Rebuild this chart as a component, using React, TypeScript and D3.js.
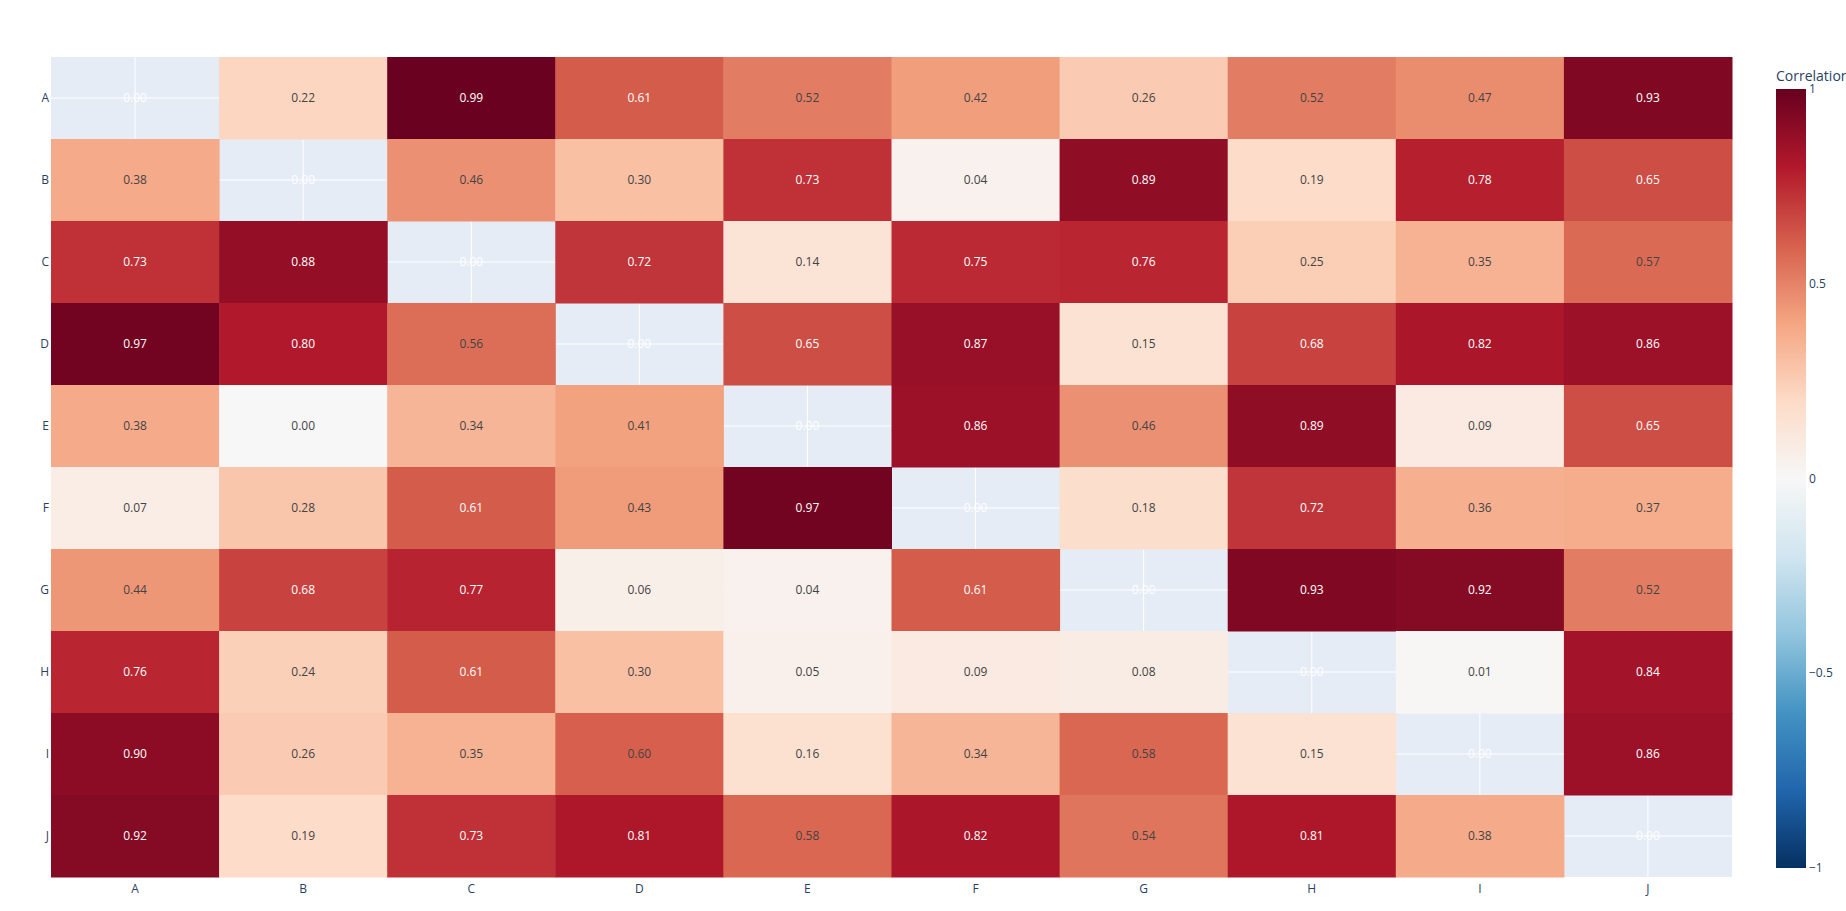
import React from "react";
import * as d3 from "d3";

const labels = ["A", "B", "C", "D", "E", "F", "G", "H", "I", "J"];
const N = NaN;
const rowA = [N, 0.22, 0.99, 0.61, 0.52, 0.42, 0.26, 0.52, 0.47, 0.93];
const rowB = [0.38, N, 0.46, 0.30, 0.73, 0.04, 0.89, 0.19, 0.78, 0.65];
const rowC = [0.73, 0.88, N, 0.72, 0.14, 0.75, 0.76, 0.25, 0.35, 0.57];
const rowD = [0.97, 0.80, 0.56, N, 0.65, 0.87, 0.15, 0.68, 0.82, 0.86];
const rowE = [0.38, 0.00, 0.34, 0.41, N, 0.86, 0.46, 0.89, 0.09, 0.65];
const rowF = [0.07, 0.28, 0.61, 0.43, 0.97, N, 0.18, 0.72, 0.36, 0.37];
const rowG = [0.44, 0.68, 0.77, 0.06, 0.04, 0.61, N, 0.93, 0.92, 0.52];
const rowH = [0.76, 0.24, 0.61, 0.30, 0.05, 0.09, 0.08, N, 0.01, 0.84];
const rowI = [0.90, 0.26, 0.35, 0.60, 0.16, 0.34, 0.58, 0.15, N, 0.86];
const rowJ = [0.92, 0.19, 0.73, 0.81, 0.58, 0.82, 0.54, 0.81, 0.38, N];
const matrix = [rowA, rowB, rowC, rowD, rowE, rowF, rowG, rowH, rowI, rowJ];
const colorbarTicks = [1, 0.5, 0, -0.5, -1];

const rdbuColors = [
  "rgb(5,48,97)", "rgb(33,102,172)", "rgb(67,147,195)", "rgb(146,197,222)",
  "rgb(209,229,240)", "rgb(247,247,247)", "rgb(253,219,199)", "rgb(244,165,130)",
  "rgb(214,96,77)", "rgb(178,24,43)", "rgb(103,0,31)",
];

const W = 1846, H = 911;
const plot = { left: 51, right: 1732, top: 57, bottom: 877 };
const cb = { x: 1776, w: 30, top: 89, bottom: 868 };
const FONT = "'Open Sans', Verdana, Arial, sans-serif";

const stops = rdbuColors.map((_, i) => -1 + (2 * i) / (rdbuColors.length - 1));
const color = d3.scaleLinear<string>().domain(stops).range(rdbuColors).interpolate(d3.interpolateRgb).clamp(true);

function textColor(v: number) {
  if (isNaN(v)) return "#fff";
  const c = d3.rgb(color(v));
  const b = (c.r * 299 + c.g * 587 + c.b * 114) / 1000;
  return b < 128 ? "#fff" : "#444";
}

export default function App() {
  const x = d3.scaleBand().domain(labels).range([plot.left, plot.right]).padding(0);
  const y = d3.scaleBand().domain(labels).range([plot.top, plot.bottom]).padding(0);
  const cbY = d3.scaleLinear().domain([-1, 1]).range([cb.bottom, cb.top]);
  const bw = x.bandwidth(), bh = y.bandwidth();

  return (
    <div style={{ position: "absolute", left: 0, top: 0 }}>
      <svg width={W} height={H} style={{ display: "block", fontFamily: FONT }}>
        <defs>
          <linearGradient id="cbgrad" x1="0" y1="1" x2="0" y2="0">
            {rdbuColors.map((c, i) => (
              <stop key={i} offset={`${(i / (rdbuColors.length - 1)) * 100}%`} stopColor={c} />
            ))}
          </linearGradient>
        </defs>
        <rect x={0} y={0} width={W} height={H} fill="#fff" />
        <rect x={plot.left} y={plot.top} width={plot.right - plot.left} height={plot.bottom - plot.top} fill="#E5ECF6" />
        {labels.map((l) => (
          <g key={"g" + l}>
            <line x1={x(l)! + bw / 2} x2={x(l)! + bw / 2} y1={plot.top} y2={plot.bottom} stroke="#fff" strokeWidth={1} />
            <line y1={y(l)! + bh / 2} y2={y(l)! + bh / 2} x1={plot.left} x2={plot.right} stroke="#fff" strokeWidth={1} />
          </g>
        ))}
        {matrix.map((row, ri) =>
          row.map((v, ci) =>
            isNaN(v) ? null : (
              <rect key={`c${ri}-${ci}`} x={x(labels[ci])!} y={y(labels[ri])!} width={bw + 0.5} height={bh + 0.5} fill={color(v)} />
            )
          )
        )}
        {matrix.map((row, ri) =>
          row.map((v, ci) => (
            <text key={`t${ri}-${ci}`} x={x(labels[ci])! + bw / 2} y={y(labels[ri])! + bh / 2} dy="0.35em"
              textAnchor="middle" fontSize={12} fill={textColor(v)}>
              {(isNaN(v) ? 0 : v).toFixed(2)}
            </text>
          ))
        )}
        {labels.map((l) => (
          <text key={"yl" + l} x={plot.left - 2} y={y(l)! + bh / 2} dy="0.35em" textAnchor="end" fontSize={12} fill="#2a3f5f">{l}</text>
        ))}
        {labels.map((l) => (
          <text key={"xl" + l} x={x(l)! + bw / 2} y={plot.bottom + 16} textAnchor="middle" fontSize={12} fill="#2a3f5f">{l}</text>
        ))}
        <rect x={cb.x} y={cb.top} width={cb.w} height={cb.bottom - cb.top} fill="url(#cbgrad)" />
        {colorbarTicks.map((t) => (
          <text key={"cb" + t} x={cb.x + cb.w + 3} y={cbY(t)} dy="0.35em" fontSize={12} fill="#2a3f5f">
            {t < 0 ? "\u2212" + Math.abs(t) : String(t)}
          </text>
        ))}
        <text x={cb.x} y={cb.top - 8} fontSize={14} fill="#2a3f5f">Correlation</text>
      </svg>
    </div>
  );
}
